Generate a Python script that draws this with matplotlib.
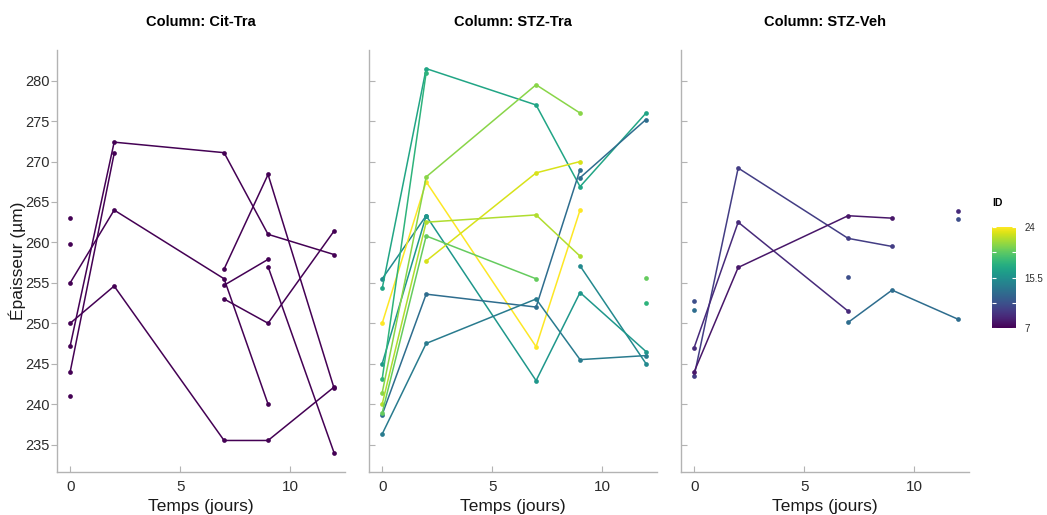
import numpy as np
import matplotlib
matplotlib.use("Agg")
import matplotlib.pyplot as plt
from matplotlib import cm, colors

plt.rcParams['font.family'] = ['Liberation Sans', 'DejaVu Sans']

nan = np.nan
times = [0, 2, 7, 9, 12]
groups = ["Cit-Tra", "STZ-Tra", "STZ-Veh"]

# Cit-Tra
cit_tra_ids = [7, 7, 7, 7, 7, 7, 7]
cit_tra_values = [
    [255.0, 264.0, 255.5, 240.0, nan],
    [250.0, 254.6, 235.5, 235.5, 242.1],
    [247.2, 272.4, 271.1, 261.0, 258.5],
    [244.0, 271.0, nan, 257.0, 234.0],
    [263.0, nan, 256.7, 268.4, 242.0],
    [259.8, nan, 254.7, 257.9, nan],
    [241.0, nan, 253.0, 250.0, 261.4],
]

# STZ-Tra
stz_tra_ids = [15, 17, 24, 16, 18, 23, 13, 13, 14, 21, 22, 20]
stz_tra_values = [
    [255.5, 263.3, nan, 257.1, 245.0],
    [254.3, 281.5, 277.0, 266.9, 276.0],
    [250.0, 267.5, 247.1, 264.0, nan],
    [245.0, 263.3, 242.9, 253.8, 246.5],
    [243.1, 281.0, nan, nan, 252.5],
    [nan, 257.7, 268.6, 270.0, nan],
    [238.7, 253.6, 252.0, 269.0, nan],
    [nan, nan, nan, 268.0, 275.2],
    [236.3, 247.5, 253.0, 245.5, 246.0],
    [241.4, 268.1, 279.5, 276.0, nan],
    [240.0, 262.5, 263.4, 258.3, nan],
    [238.9, 260.8, 255.5, nan, 255.6],
]

# STZ-Veh
stz_veh_ids = [10, 9, 8, 11, 13]
stz_veh_values = [
    [243.5, 269.2, 260.5, 259.5, nan],
    [247.0, 262.5, 251.5, nan, 263.9],
    [244.0, 256.9, 263.3, 263.0, nan],
    [252.8, nan, 255.7, nan, 262.9],
    [251.6, nan, 250.1, 254.1, 250.5],
]

group_ids = [cit_tra_ids, stz_tra_ids, stz_veh_ids]
group_values = [cit_tra_values, stz_tra_values, stz_veh_values]

id_min, id_max = 7, 24
norm = colors.Normalize(vmin=id_min, vmax=id_max)
cmap = plt.get_cmap('viridis')

W, H = 1047, 515
fig = plt.figure(figsize=(W / 100, H / 100), dpi=100)

def px_axes(l, t, r, b):
    return fig.add_axes([l / W, 1 - b / H, (r - l) / W, (b - t) / H])

lefts = [57, 369, 681]
spine_col = '#b3b3b3'
for gi, (g, ids, vals) in enumerate(zip(groups, group_ids, group_values)):
    ax = px_axes(lefts[gi], 50, lefts[gi] + 288, 472)
    for sid, v in zip(ids, vals):
        c = cmap(norm(sid))
        ax.plot(times, v, color=c, lw=1.1, marker='o', ms=3.4,
                markeredgewidth=0, zorder=3)
    ax.set_xlim(-0.6, 12.5)
    ax.set_ylim(231.6, 283.8)
    ax.set_xticks([0, 5, 10])
    ax.set_yticks(np.arange(235, 281, 5))
    for s in ['top', 'right']:
        ax.spines[s].set_visible(False)
    for s in ['left', 'bottom']:
        ax.spines[s].set_color(spine_col)
        ax.spines[s].set_linewidth(1.0)
    ax.tick_params(axis='both', colors=spine_col, labelcolor='#2b2b2b',
                   labelsize=10.5, length=4, width=0.8)
    ax.tick_params(axis='x', direction='in', pad=6, labelsize=11)
    if gi == 0:
        ax.tick_params(axis='y', direction='out', pad=1.5)
        ax.set_ylabel('Épaisseur (µm)', fontsize=12.5, color='#1a1a1a')
        ax.yaxis.set_label_coords(-31 / 288, 0.5)
    else:
        ax.tick_params(axis='y', direction='in', labelleft=False)
    ax.set_xlabel('Temps (jours)', fontsize=12.5, color='#1a1a1a', labelpad=3)
    ax.set_title(f'Column: {g}', fontsize=10.5, fontweight='bold', pad=17)

# colorbar
cax = px_axes(992, 227, 1016, 328)
sm = cm.ScalarMappable(norm=norm, cmap=cmap)
cb = fig.colorbar(sm, cax=cax)
cb.outline.set_visible(False)
qt = [id_min + k * (id_max - id_min) / 4 for k in range(5)]
cb.set_ticks(qt)
cb.set_ticklabels(['7', '', '15.5', '', '24'])
cax.tick_params(direction='in', colors='white', labelcolor='#2b2b2b',
                labelsize=7, length=3, width=0.8, right=True, left=True, pad=6)
fig.text(992 / W, 1 - 203 / H, 'ID', fontsize=7.5, fontweight='bold', va='center', ha='left')

fig.savefig('out.png', dpi=100)
